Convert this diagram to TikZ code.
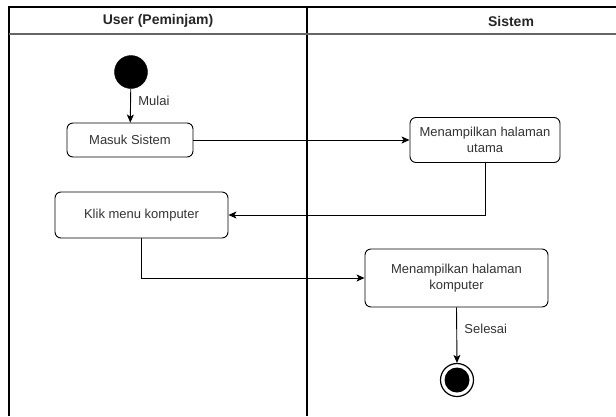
\documentclass[tikz,border=0pt]{standalone}
\usepackage{fontspec}
\setmainfont{Liberation Sans}
\usetikzlibrary{arrows.meta,positioning}

\tikzset{
  lane/.style={line width=1.3pt, draw=black},
  lanehead/.style={line width=1.6pt, draw=black!60},
  headtext/.style={font=\fontsize{14}{16}\selectfont\bfseries, text=black!85},
  actbox/.style={draw=black, line width=0.9pt, rounded corners=6pt, fill=white,
    align=center, font=\fontsize{13}{15.5}\selectfont, text=black!80, inner sep=0pt},
  flow/.style={draw=black, line width=0.9pt, -{Stealth[length=8pt,width=7pt,inset=2pt]}},
  flowlabel/.style={font=\fontsize{13}{15}\selectfont, text=black!80},
  startdot/.style={circle, fill=black, draw=black, minimum size=33pt, inner sep=0pt},
  endring/.style={circle, draw=black, line width=1.2pt, fill=white, minimum size=33pt, inner sep=0pt},
  enddot/.style={circle, fill=black, minimum size=25pt, inner sep=0pt}
}

\begin{document}
\begin{tikzpicture}[x=1pt, y=-1pt]
  \useasboundingbox (0,0) rectangle (616,416);

  % swimlane frame
  \draw[lane] (9,416) -- (9,7) -- (616,7);
  \draw[lane] (307,7) -- (307,416);
  \draw[lanehead] (9,34) -- (616,34);
  \node[headtext] (laneuser) at (158,21) {User (Peminjam)};
  \node[headtext] (lanesys) at (511,21) {Sistem};

  % activity nodes
  \node[startdot] (start) at (131,72) {};
  \node[actbox, minimum width=126pt, minimum height=34pt] (masuk) at (130,140) {Masuk Sistem};
  \node[actbox, minimum width=150pt, minimum height=45pt] (utama) at (485,140)
    {Menampilkan halaman\\utama};
  \node[actbox, minimum width=173pt, minimum height=46pt] (klik) at (141.5,215) {Klik menu komputer};
  \node[actbox, minimum width=183pt, minimum height=58pt] (komp) at (456.5,278)
    {Menampilkan halaman\\komputer};
  \node[endring] (finish) at (457,380) {};
  \node[enddot] (finishdot) at (finish.center) {};

  % control flow
  \draw[flow] (start) -- node[flowlabel, right=4pt, pos=0.35] (lblmulai) {Mulai} (masuk);
  \draw[flow] (masuk.east) -- (utama.west);
  \draw[flow] (utama.south) |- (klik.east);
  \draw[flow] (klik.south) |- (komp.west);
  \draw[flow] (komp.south) -- node[flowlabel, right=4pt, pos=0.38] (lblselesai) {Selesai} (finish.north);
\end{tikzpicture}
\end{document}
